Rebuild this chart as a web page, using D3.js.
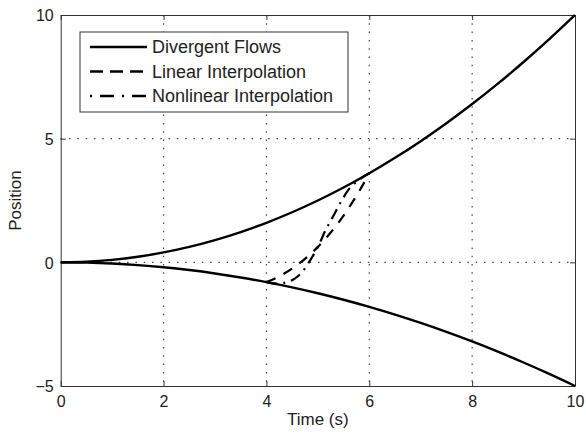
<!DOCTYPE html>
<html>
<head>
<meta charset="utf-8">
<script src="https://cdn.jsdelivr.net/npm/d3@7"></script>
<style>
  html, body { margin: 0; padding: 0; background: #fff; }
  svg { display: block; font-family: "Liberation Sans", Arial, Helvetica, sans-serif; }
</style>
</head>
<body>
<svg id="chart" width="586" height="434"></svg>
<script>
// ---- data ----
const timeDiv = [0, 0.5, 1, 1.5, 2, 2.5, 3, 3.5, 4, 4.5, 5, 5.5, 6, 6.5, 7, 7.5, 8, 8.5, 9, 9.5, 10];
const upperFlow = [0, 0.025, 0.1, 0.225, 0.4, 0.625, 0.9, 1.225, 1.6, 2.025, 2.5, 3.025, 3.6, 4.225, 4.9, 5.625, 6.4, 7.225, 8.1, 9.025, 10];
const lowerFlow = [0, -0.0125, -0.05, -0.1125, -0.2, -0.3125, -0.45, -0.6125, -0.8, -1.0125, -1.25, -1.5125, -1.8, -2.1125, -2.45, -2.8125, -3.2, -3.6125, -4.05, -4.5125, -5];

const timeLin = [4, 4.25, 4.5, 4.75, 5, 5.25, 5.5, 5.75, 6];
const linearInterp = [-0.8, -0.564, -0.253, 0.141, 0.625, 1.206, 1.891, 2.686, 3.6];

const timeNonlin = [4, 4.2, 4.4, 4.55, 4.7, 4.85, 5, 5.15, 5.3, 5.45, 5.6, 5.75, 5.9, 6];
const nonlinearInterp = [-0.8, -0.86, -0.8, -0.66, -0.38, 0.08, 0.62, 1.3, 1.87, 2.45, 2.95, 3.25, 3.48, 3.6];

const xTicks = [0, 2, 4, 6, 8, 10];
const yTicks = [-5, 0, 5, 10];
const legendLabels = ["Divergent Flows", "Linear Interpolation", "Nonlinear Interpolation"];

// ---- layout ----
const svg = d3.select("#chart");
const L = 60.7, R = 575, T = 15, B = 386;
const x = d3.scaleLinear().domain([0, 10]).range([L, R]);
const y = d3.scaleLinear().domain([-5, 10]).range([B, T]);

// grid (dotted)
const gridColor = "#444";
svg.append("g").selectAll("line").data(xTicks.filter(d => d > 0 && d < 10)).join("line")
  .attr("x1", d => x(d)).attr("x2", d => x(d)).attr("y1", T).attr("y2", B)
  .attr("stroke", gridColor).attr("stroke-width", 1.2).attr("stroke-dasharray", "1.5,6.8");
svg.append("g").selectAll("line").data(yTicks.filter(d => d > -5 && d < 10)).join("line")
  .attr("y1", d => y(d)).attr("y2", d => y(d)).attr("x1", L).attr("x2", R)
  .attr("stroke", gridColor).attr("stroke-width", 1.2).attr("stroke-dasharray", "1.5,6.8");

// axes with inner ticks
const axisColor = "#333";
const gx = svg.append("g").attr("transform", `translate(0,${B})`)
  .call(d3.axisBottom(x).tickValues(xTicks).tickSizeInner(-5).tickSizeOuter(0).tickPadding(10).tickFormat(d3.format("d")));
const gxTop = svg.append("g").attr("transform", `translate(0,${T})`)
  .call(d3.axisTop(x).tickValues(xTicks).tickSizeInner(-5).tickSizeOuter(0).tickFormat(""));
const gy = svg.append("g").attr("transform", `translate(${L},0)`)
  .call(d3.axisLeft(y).tickValues(yTicks).tickSizeInner(-5).tickSizeOuter(0).tickPadding(7)
    .tickFormat(d => d < 0 ? "\u2212" + Math.abs(d) : d));
const gyR = svg.append("g").attr("transform", `translate(${R},0)`)
  .call(d3.axisRight(y).tickValues(yTicks).tickSizeInner(-5).tickSizeOuter(0).tickFormat(""));
[gx, gxTop, gy, gyR].forEach(g => {
  g.select(".domain").attr("stroke", axisColor).attr("stroke-width", 1);
  g.selectAll(".tick line").attr("stroke", axisColor);
  g.selectAll("text").attr("fill", "#222").style("font-size", "16px")
    .style("font-family", "'Liberation Sans', Arial, sans-serif");
});
gy.selectAll(".tick text").attr("dy", "0.36em");

// axis titles
svg.append("text").attr("x", (L + R) / 2).attr("y", 425).attr("text-anchor", "middle")
  .style("font-size", "17px").attr("fill", "#222").text("Time (s)");
svg.append("text").attr("transform", `translate(21,${(T + B) / 2}) rotate(-90)`).attr("text-anchor", "middle")
  .style("font-size", "17px").attr("fill", "#222").text("Position");

// curves
const line = d3.line().x(d => x(d[0])).y(d => y(d[1])).curve(d3.curveMonotoneX);
const plot = svg.append("g");
plot.append("path").datum(d3.zip(timeDiv, upperFlow)).attr("d", line)
  .attr("fill", "none").attr("stroke", "#000").attr("stroke-width", 2.4);
plot.append("path").datum(d3.zip(timeDiv, lowerFlow)).attr("d", line)
  .attr("fill", "none").attr("stroke", "#000").attr("stroke-width", 2.4);
plot.append("path").datum(d3.zip(timeLin, linearInterp)).attr("d", line)
  .attr("fill", "none").attr("stroke", "#000").attr("stroke-width", 2.2).attr("stroke-dasharray", "10,9");
plot.append("path").datum(d3.zip(timeNonlin, nonlinearInterp)).attr("d", line)
  .attr("fill", "none").attr("stroke", "#000").attr("stroke-width", 2.2).attr("stroke-dasharray", "11,6,2,6");

// legend
const lg = svg.append("g");
lg.append("rect").attr("x", 80).attr("y", 32).attr("width", 268).attr("height", 80)
  .attr("fill", "#fff").attr("stroke", axisColor).attr("stroke-width", 1);
const dashes = [null, "13,7", "2,8,14,8"];
legendLabels.forEach((lab, i) => {
  const yy = 47 + i * 24.5;
  lg.append("line").attr("x1", 90).attr("x2", 147).attr("y1", yy).attr("y2", yy)
    .attr("stroke", "#000").attr("stroke-width", 2.6)
    .attr("stroke-dasharray", dashes[i]);
  lg.append("text").attr("x", 152).attr("y", yy).attr("dy", "0.36em")
    .style("font-size", "18px").attr("fill", "#222").text(lab);
});
</script>
</body>
</html>
